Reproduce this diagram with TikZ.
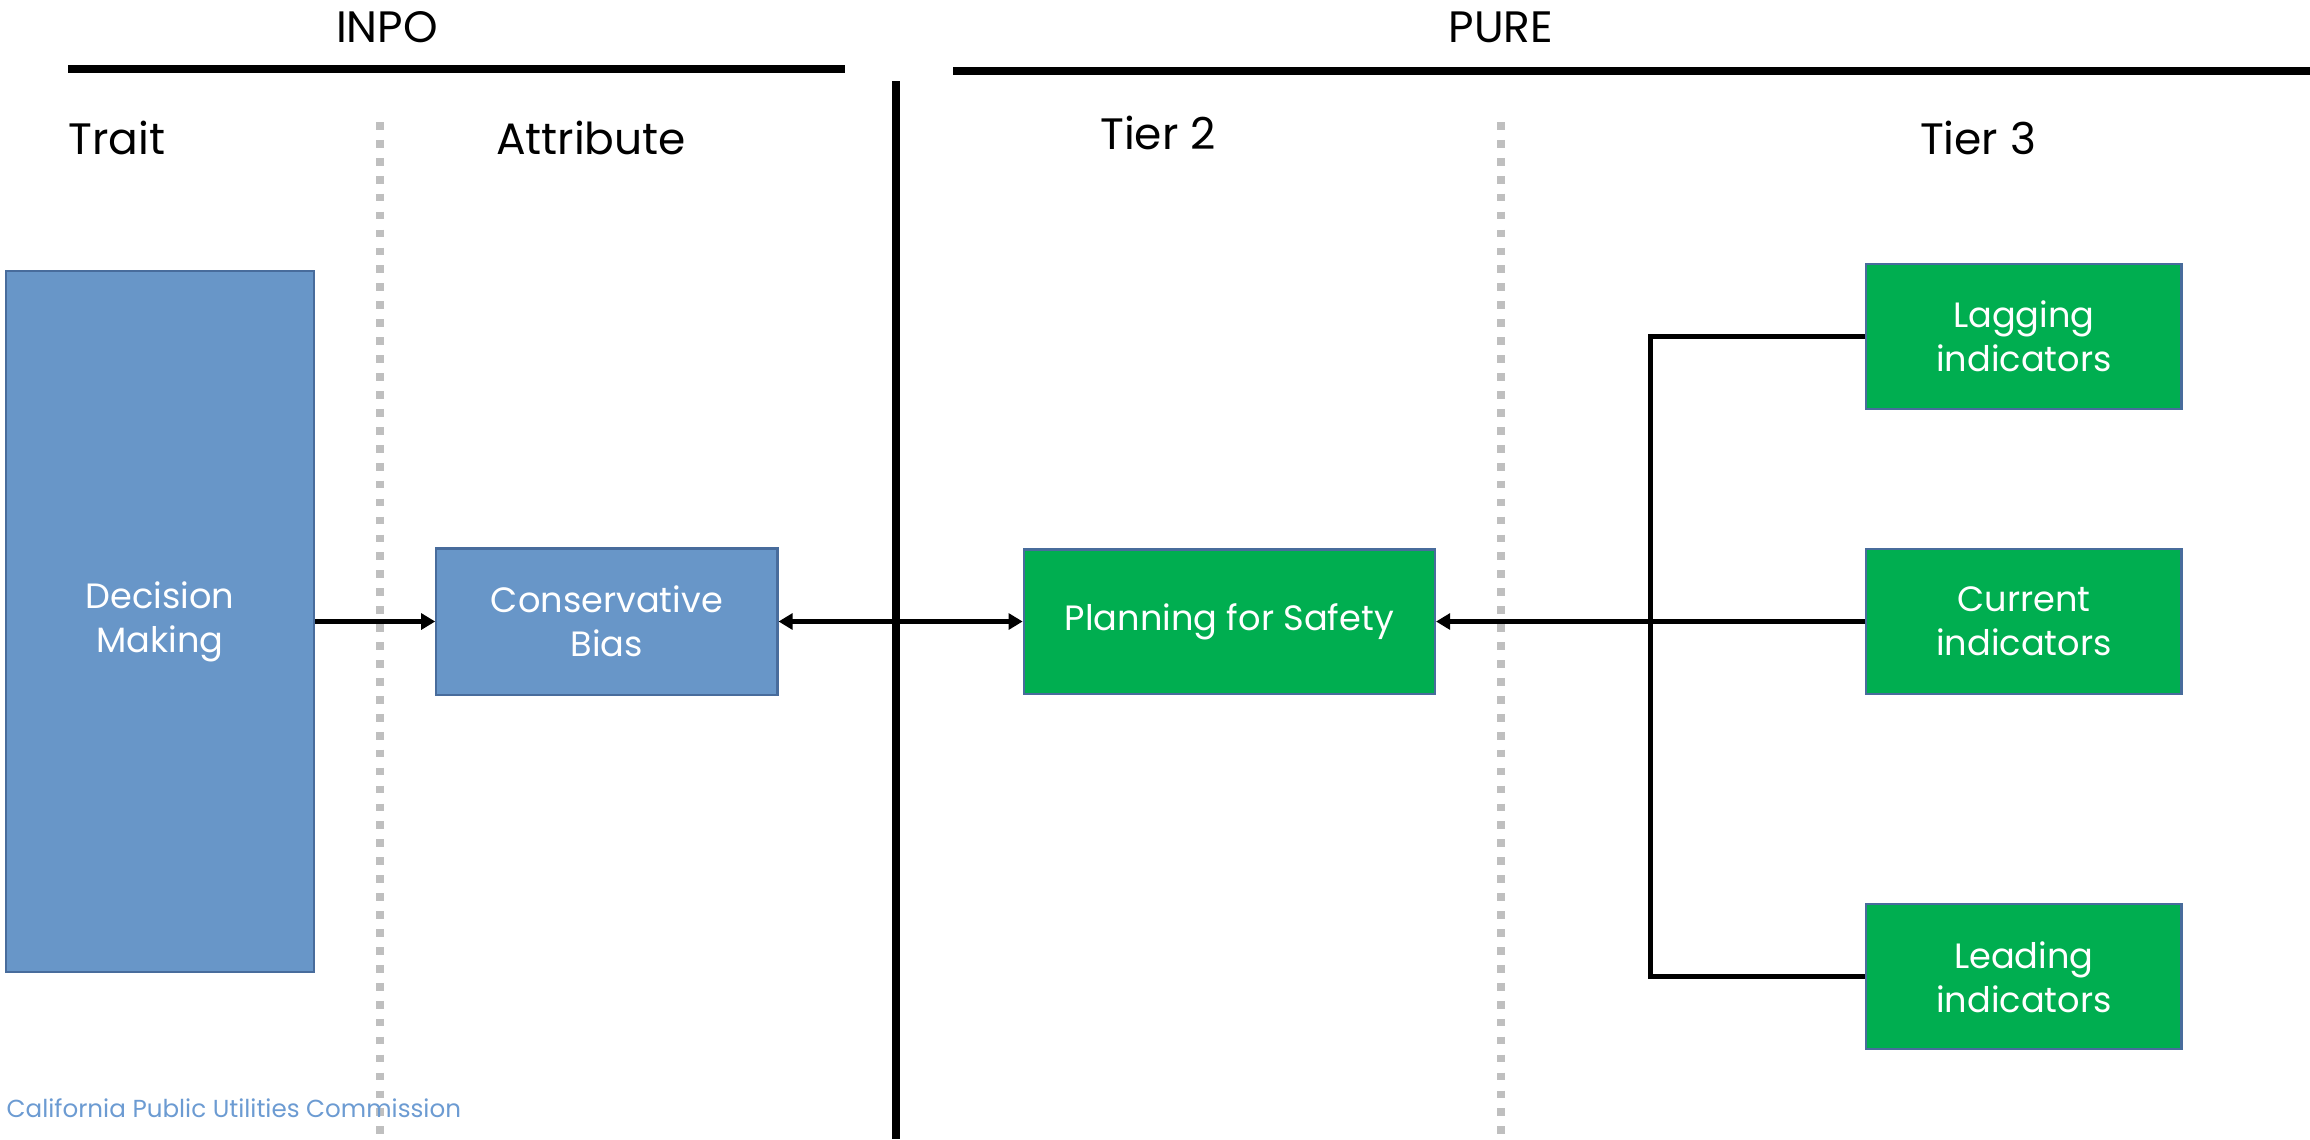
\documentclass[tikz,border=0pt]{standalone}
\usepackage{fontspec}
\setmainfont{Poppins}
\usetikzlibrary{arrows.meta,positioning,calc}
\definecolor{boxblue}{RGB}{104,150,200}
\definecolor{edgeblue}{RGB}{72,108,156}
\definecolor{boxgreen}{RGB}{0,174,80}
\definecolor{dotgrey}{RGB}{191,191,191}
\definecolor{footblue}{RGB}{108,155,210}

\begin{document}
\begin{tikzpicture}[x=0.01cm, y=-0.01cm,
    bb/.style={draw=edgeblue, line width=0.6pt, fill=boxblue, text=white,
               align=center, inner sep=0pt, font=\fontsize{10}{12.5}\selectfont},
    gb/.style={draw=edgeblue, line width=0.6pt, fill=boxgreen, text=white,
               align=center, inner sep=0pt, minimum width=3.15cm, minimum height=1.45cm,
               font=\fontsize{10}{12.5}\selectfont},
    hdr/.style={inner sep=0pt, font=\fontsize{12.5}{15}\selectfont},
    rule/.style={line width=2.2pt},
    dots/.style={dotgrey, line width=2.2pt, dash pattern=on 2.2pt off 2.9pt},
    conn/.style={line width=1.5pt},
    arr/.style={conn, -{Triangle[length=4pt,width=4.5pt]}}]
\useasboundingbox (0,0) rectangle (2310,1139);
% section headings
\node[hdr] (inpo) at (387,27) {INPO};
\node[hdr] (pure) at (1501,27) {PURE};
\node[hdr, anchor=west] (trait) at (68,138) {Trait};
\node[hdr] (attr) at (591,138) {Attribute};
\node[hdr] (tier2) at (1158,133) {Tier 2};
\node[hdr] (tier3) at (1978,138) {Tier 3};
\draw[rule] (68,69) -- (845,69);
\draw[rule] (953,71) -- (2310,71);
\draw[rule] (896,81) -- (896,1139);
\draw[dots] (380,122) -- (380,1139);
\draw[dots] (1501,122) -- (1501,1139);
% boxes
\node[bb, minimum width=3.08cm, minimum height=7.01cm] (dm) at (160,621.5) {Decision\\Making};
\node[bb, minimum width=3.41cm, minimum height=1.46cm, right=1.2cm of dm] (cb) {Conservative\\Bias};
\node[gb, minimum width=4.11cm, minimum height=1.44cm, right=2.44cm of cb] (pfs) {Planning for Safety};
\node[gb, right=4.29cm of pfs] (cur) {Current\\indicators};
\node[gb, above=1.38cm of cur] (lag) {Lagging\\indicators};
\node[gb, below=2.08cm of cur] (lead) {Leading\\indicators};
\coordinate (fork) at ($(pfs.east)!0.5!(cur.west)$);
% connectors
\draw[arr] (dm) -- (cb);
\draw[conn, {Triangle[length=4pt,width=4.5pt]}-{Triangle[length=4pt,width=4.5pt]}] (cb) -- (pfs);
\draw[conn] (lag.west) -| (fork) |- (lead.west);
\draw[conn] (cur.west) -- (fork);
\draw[arr] (fork) -- (pfs.east);
\node[anchor=west, inner sep=0pt, text=footblue, font=\fontsize{7}{8}\selectfont] (cpuc) at (6,1108) {California Public Utilities Commission};
\end{tikzpicture}
\end{document}
